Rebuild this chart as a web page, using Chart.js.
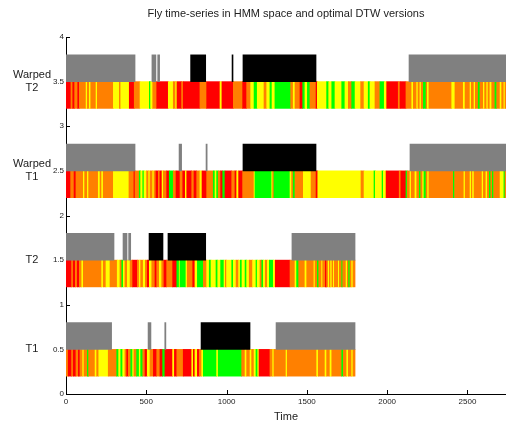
<!DOCTYPE html>
<html>
<head>
<meta charset="utf-8">
<script src="https://cdn.jsdelivr.net/npm/chart.js@4.4.1/dist/chart.umd.min.js"></script>
<style>
    html, body { margin: 0; padding: 0; background: #fff; }
    #wrap { width: 506px; height: 423px; }
</style>
</head>
<body>
<div id="wrap"><canvas id="dtwChart" width="506" height="423"></canvas></div>
<script>
// Row names, bottom to top
var rowNames = ['T1', 'T2', 'Warped T1', 'Warped T2'];
var seriesLength = [1800, 1800, 2740, 2740];
var xTicks = [0, 500, 1000, 1500, 2000, 2500];

// HMM state runs: [start time, state]  (R, O, Y, G)
var t1Hmm = [[0,'O'],[14,'R'],[35,'O'],[45,'R'],[62,'O'],[77,'R'],[87,'O'],[104,'Y'],[112,'O'],[133,'G'],[141,'O'],[181,'Y'],[191,'O'],[204,'Y'],[263,'O'],[316,'G'],[328,'Y'],[341,'G'],[353,'Y'],[367,'O'],[378,'R'],[388,'O'],[403,'G'],[415,'Y'],[423,'O'],[440,'G'],[456,'Y'],[465,'G'],[478,'O'],[492,'R'],[506,'Y'],[523,'O'],[544,'R'],[565,'O'],[585,'R'],[602,'G'],[616,'R'],[664,'Y'],[675,'R'],[690,'O'],[730,'R'],[783,'Y'],[793,'R'],[803,'Y'],[818,'R'],[830,'O'],[845,'Y'],[855,'G'],[938,'Y'],[948,'G'],[1094,'O'],[1115,'Y'],[1125,'O'],[1146,'Y'],[1156,'O'],[1171,'Y'],[1183,'G'],[1194,'Y'],[1202,'R'],[1270,'O'],[1287,'Y'],[1295,'O'],[1370,'Y'],[1378,'O'],[1561,'Y'],[1571,'O'],[1613,'Y'],[1623,'O'],[1644,'Y'],[1655,'O'],[1717,'G'],[1727,'O'],[1748,'Y'],[1758,'O'],[1779,'Y'],[1787,'O']];

var t2Hmm = [[0,'R'],[35,'O'],[45,'R'],[58,'O'],[70,'R'],[83,'O'],[98,'Y'],[108,'O'],[222,'Y'],[232,'O'],[249,'Y'],[274,'O'],[319,'Y'],[336,'O'],[347,'G'],[357,'Y'],[367,'O'],[382,'Y'],[399,'O'],[415,'R'],[444,'O'],[456,'Y'],[465,'O'],[481,'Y'],[494,'O'],[506,'R'],[519,'Y'],[534,'O'],[554,'R'],[565,'O'],[581,'Y'],[596,'O'],[610,'R'],[627,'O'],[664,'R'],[690,'G'],[705,'Y'],[710,'G'],[747,'Y'],[755,'O'],[789,'R'],[803,'Y'],[818,'G'],[855,'O'],[876,'Y'],[892,'G'],[903,'Y'],[934,'G'],[945,'Y'],[963,'G'],[984,'Y'],[992,'O'],[1000,'Y'],[1032,'G'],[1042,'Y'],[1059,'O'],[1075,'Y'],[1085,'G'],[1096,'Y'],[1115,'G'],[1125,'Y'],[1141,'O'],[1162,'Y'],[1183,'G'],[1191,'Y'],[1208,'O'],[1219,'G'],[1229,'Y'],[1241,'O'],[1254,'Y'],[1266,'G'],[1291,'Y'],[1303,'R'],[1395,'O'],[1426,'Y'],[1436,'G'],[1449,'O'],[1488,'Y'],[1499,'O'],[1544,'Y'],[1551,'O'],[1565,'G'],[1574,'O'],[1592,'Y'],[1598,'O'],[1615,'R'],[1623,'O'],[1633,'Y'],[1640,'O'],[1648,'Y'],[1656,'O'],[1665,'Y'],[1671,'O'],[1696,'Y'],[1702,'O'],[1717,'G'],[1723,'O'],[1744,'Y'],[1752,'O'],[1760,'G'],[1768,'O'],[1779,'Y'],[1787,'O']];

var warpedT1Hmm = [[0,'R'],[29,'O'],[50,'R'],[62,'O'],[108,'Y'],[116,'O'],[133,'Y'],[141,'O'],[201,'Y'],[212,'O'],[222,'Y'],[232,'O'],[295,'Y'],[392,'O'],[423,'R'],[430,'O'],[456,'G'],[465,'Y'],[478,'G'],[486,'Y'],[502,'O'],[515,'Y'],[523,'O'],[540,'Y'],[548,'O'],[560,'R'],[575,'O'],[585,'R'],[598,'Y'],[606,'O'],[627,'R'],[643,'G'],[668,'O'],[685,'R'],[710,'O'],[727,'R'],[743,'Y'],[752,'R'],[783,'O'],[797,'R'],[814,'O'],[834,'Y'],[847,'R'],[876,'O'],[917,'G'],[928,'Y'],[938,'G'],[948,'O'],[963,'R'],[976,'G'],[990,'R'],[1032,'O'],[1052,'R'],[1063,'Y'],[1075,'R'],[1100,'O'],[1171,'Y'],[1177,'G'],[1281,'Y'],[1287,'O'],[1295,'G'],[1395,'Y'],[1405,'O'],[1415,'G'],[1426,'O'],[1478,'Y'],[1526,'O'],[1557,'R'],[1568,'Y'],[1837,'O'],[1856,'Y'],[1918,'G'],[1926,'Y'],[1968,'G'],[1976,'Y'],[1993,'R'],[2075,'O'],[2085,'R'],[2117,'G'],[2125,'O'],[2142,'Y'],[2150,'O'],[2173,'Y'],[2184,'O'],[2200,'G'],[2209,'O'],[2221,'Y'],[2229,'G'],[2242,'O'],[2252,'Y'],[2260,'O'],[2412,'G'],[2420,'O'],[2478,'Y'],[2486,'O'],[2516,'Y'],[2524,'O'],[2532,'Y'],[2541,'O'],[2591,'Y'],[2599,'O'],[2615,'Y'],[2624,'O'],[2636,'G'],[2645,'O'],[2655,'G'],[2663,'O'],[2703,'Y'],[2727,'G'],[2734,'O']];

var warpedT2Hmm = [[0,'R'],[31,'O'],[42,'R'],[54,'O'],[73,'R'],[83,'O'],[125,'Y'],[133,'O'],[145,'Y'],[154,'O'],[187,'Y'],[195,'O'],[295,'Y'],[332,'O'],[341,'Y'],[394,'R'],[425,'O'],[461,'Y'],[519,'G'],[527,'Y'],[540,'O'],[565,'R'],[637,'Y'],[668,'O'],[683,'Y'],[691,'R'],[720,'O'],[730,'R'],[834,'O'],[876,'R'],[959,'Y'],[971,'R'],[1042,'O'],[1100,'R'],[1125,'O'],[1150,'Y'],[1171,'G'],[1191,'Y'],[1233,'O'],[1250,'Y'],[1270,'G'],[1283,'Y'],[1301,'G'],[1399,'O'],[1415,'Y'],[1426,'O'],[1457,'R'],[1474,'G'],[1488,'Y'],[1503,'G'],[1519,'O'],[1557,'R'],[1565,'Y'],[1623,'G'],[1636,'Y'],[1655,'G'],[1675,'Y'],[1717,'G'],[1737,'Y'],[1758,'O'],[1779,'G'],[1800,'Y'],[1835,'O'],[1856,'Y'],[1882,'G'],[1893,'Y'],[1924,'O'],[1955,'G'],[1982,'Y'],[1997,'R'],[2069,'O'],[2080,'R'],[2117,'O'],[2153,'Y'],[2163,'O'],[2184,'Y'],[2192,'O'],[2204,'Y'],[2212,'O'],[2225,'G'],[2242,'O'],[2250,'Y'],[2260,'O'],[2402,'Y'],[2422,'O'],[2474,'Y'],[2485,'O'],[2516,'Y'],[2524,'O'],[2541,'Y'],[2549,'O'],[2567,'G'],[2578,'O'],[2599,'Y'],[2607,'O'],[2620,'Y'],[2628,'O'],[2640,'Y'],[2651,'O'],[2671,'G'],[2682,'O'],[2703,'Y'],[2713,'O'],[2727,'Y'],[2734,'O']];

// Behaviour blocks above each strip: [start, end, kind]  (white = nothing)
var t1Blocks = [[0,284,'gray'],[511,529,'gray'],[615,622,'gray'],[841,1146,'black'],[1308,1800,'gray']];
var t2Blocks = [[0,299,'gray'],[355,380,'gray'],[390,403,'gray'],[517,604,'black'],[635,870,'black'],[1407,1800,'gray']];
var warpedT1Blocks = [[0,430,'gray'],[704,720,'gray'],[872,879,'gray'],[1102,1557,'black'],[2142,2740,'gray']];
var warpedT2Blocks = [[0,430,'gray'],[535,560,'gray'],[571,583,'gray'],[776,870,'black'],[1034,1040,'black'],[1102,1557,'black'],[2136,2740,'gray']];

var hmmColors = { R: '#ff0000', O: '#ff8000', Y: '#ffff00', G: '#00ff00' };
var blockColors = { gray: '#808080', black: '#000000' };

function stripBars(runs, end, row) {
    return runs.map(function (run, i) {
        var stop = i + 1 < runs.length ? runs[i + 1][0] : end;
        return { x: [run[0], stop], y: row + 0.35, color: hmmColors[run[1]] };
    });
}

function blockBars(blocks, row) {
    return blocks.map(function (b) {
        return { x: [b[0], b[1]], y: row + 0.65, color: blockColors[b[2]] };
    });
}

var allHmm = [t1Hmm, t2Hmm, warpedT1Hmm, warpedT2Hmm];
var allBlocks = [t1Blocks, t2Blocks, warpedT1Blocks, warpedT2Blocks];
var bars = [];
for (var r = 0; r < rowNames.length; r++) {
    bars = bars.concat(stripBars(allHmm[r], seriesLength[r], r));
    bars = bars.concat(blockBars(allBlocks[r], r));
}

var textColor = '#222';
var fontFamily = '"Liberation Sans", Arial, Helvetica, sans-serif';

// Inward tick marks, drawn under the bars
var tickMarks = {
    id: 'tickMarks',
    beforeDatasetsDraw: function (chart) {
        var ctx = chart.ctx, area = chart.chartArea;
        var xs = chart.scales.x, ys = chart.scales.y;
        ctx.save();
        ctx.strokeStyle = '#000';
        ctx.lineWidth = 1;
        ctx.beginPath();
        xs.ticks.forEach(function (t) {
            var px = Math.round(xs.getPixelForValue(t.value)) + 0.5;
            ctx.moveTo(px, area.bottom);
            ctx.lineTo(px, area.bottom - 4);
        });
        ys.ticks.forEach(function (t) {
            var py = Math.round(ys.getPixelForValue(t.value)) + 0.5;
            ctx.moveTo(area.left, py);
            ctx.lineTo(area.left + 4, py);
        });
        ctx.stroke();
        ctx.restore();
    }
};

// Title, x label and the row names on the left
var labels = {
    id: 'labels',
    afterDraw: function (chart) {
        var ctx = chart.ctx, area = chart.chartArea, ys = chart.scales.y;
        var midX = (area.left + area.right) / 2;
        ctx.save();
        ctx.fillStyle = textColor;
        ctx.textAlign = 'center';
        ctx.textBaseline = 'middle';
        ctx.font = '11px ' + fontFamily;
        ctx.fillText('Fly time-series in HMM space and optimal DTW versions', midX, 14);
        ctx.fillText('Time', midX, 417);
        rowNames.forEach(function (name, i) {
            var py = ys.getPixelForValue(i + 0.5);
            var parts = name.split(' ');
            if (parts.length > 1) {
                ctx.fillText(parts[0], 32, py - 7);
                ctx.fillText(parts[1], 32, py + 6);
            } else {
                ctx.fillText(name, 32, py);
            }
        });
        ctx.restore();
    }
};

var chart = new Chart(document.getElementById('dtwChart'), {
    type: 'bar',
    data: {
        datasets: [{
            data: bars,
            backgroundColor: function (c) { return c.raw ? c.raw.color : '#000'; },
            borderWidth: 0,
            barPercentage: 1,
            categoryPercentage: 1
        }]
    },
    options: {
        indexAxis: 'y',
        responsive: false,
        animation: false,
        layout: { padding: { top: 37, right: 0, left: 0, bottom: 0 } },
        plugins: {
            legend: { display: false },
            tooltip: { enabled: false }
        },
        scales: {
            x: {
                type: 'linear',
                min: 0,
                max: seriesLength[2],
                offset: false,
                grid: { display: false, drawTicks: false, offset: false },
                border: { display: true, color: '#000', width: 1 },
                afterBuildTicks: function (scale) {
                    scale.ticks = xTicks.map(function (v) { return { value: v }; });
                },
                afterFit: function (scale) { scale.height = 29; },
                ticks: {
                    padding: 3,
                    color: textColor,
                    font: { size: 8, family: fontFamily },
                    maxRotation: 0,
                    callback: function (v) { return String(v); }
                }
            },
            y: {
                type: 'linear',
                min: 0,
                max: 4,
                offset: false,
                grid: { display: false, drawTicks: false, offset: false },
                border: { display: true, color: '#000', width: 1 },
                afterFit: function (scale) { scale.width = 66; },
                ticks: {
                    stepSize: 0.5,
                    padding: 2,
                    color: textColor,
                    font: { size: 8, family: fontFamily },
                    callback: function (v) { return String(v); }
                }
            }
        }
    },
    plugins: [tickMarks, labels]
});
</script>
</body>
</html>
